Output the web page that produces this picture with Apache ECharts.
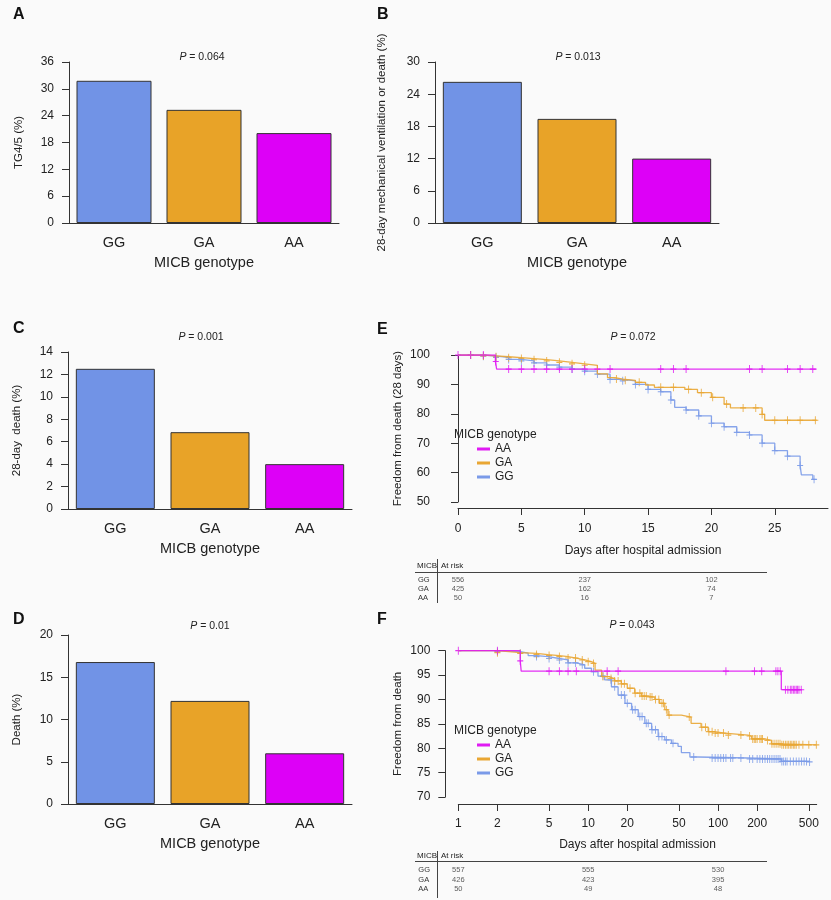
<!DOCTYPE html>
<html><head><meta charset="utf-8">
<script src="https://cdn.jsdelivr.net/npm/echarts@6/dist/echarts.min.js"></script>
<style>html,body{margin:0;padding:0;background:#fafafa}#c{width:831px;height:900px}</style>
</head><body><div id="c"></div>
<script>
// ---------- data ----------
const genotypes = ['GG', 'GA', 'AA'];
const tg45Pct = [31.8, 25.3, 20.1];
const ventOrDeathPct = [26.3, 19.4, 12.0];
const death28Pct = [12.5, 6.85, 4.0];
const deathPct = [16.8, 12.2, 6.0];
const pA = '0.064', pB = '0.013', pC = '0.001', pD = '0.01', pE = '0.072', pF = '0.043';

// Panel E: 28-day Kaplan-Meier (day, % survival)
const kmE_AA = [[0,100],[2.95,97.8],[3.05,95.2],[28.3,95.2]];
const censE_AA = [0,1,2,2.98,4,5,6,7,8,9,10,11,12,16,17,18,23,24,26,27,28];
const kmE_GA = [[0,100],[2,99.7],[3,99.4],[4,99.1],[5,98.8],[6,98.4],[7,98.0],[8,97.5],[9,97.0],[10,96.5],[11,93.6],[11.8,92.3],[12.4,91.8],[13,91.4],[14,90.7],[14.8,89.8],[15.5,89.0],[17.9,88.3],[18.9,87.2],[20,85.6],[21,83.3],[21.5,82.0],[24,79.8],[24.2,77.8],[28.3,77.8]];
const censE_GA = [1,2,3,4,5,6,7,8,9,10,12.5,13.2,14.3,16,17,18.2,19.2,20.1,21.2,22.5,23.5,24,25,26,27,28.2];
const kmE_GG = [[0,100],[2,99.6],[3,99.2],[4,98.5],[5,98.0],[6,97.3],[7,96.6],[8,95.9],[9,95.2],[10,94.5],[11,93.5],[12,91.7],[13,91.2],[14,90.0],[15,88.3],[16,87.5],[16.8,84.7],[17.1,82.2],[18,81.3],[19,79.3],[20,76.8],[21,75.6],[22,73.7],[23,72.8],[24,70.0],[25,67.5],[26,65.6],[27,62.4],[27.1,59.2],[28,57.7],[28.2,57.7]];
const censE_GG = [1,2,3,4,5,6,7,8,9,10,11,12,13,14,15,16,16.8,18,19,20,21,22,23,24,25,26,27,28.1];

// Panel F: long-term Kaplan-Meier (day, % survival), log time axis
const kmF_AA = [[1,100],[3.0,97.9],[3.05,95.8],[307,92.0],[440,92.0]];
const censF_AA = [1,2,3,5,6,7,8.1,14,17,115,191,217,279,289,301,330,345,360,370,380,390,400,410,420,437];
const kmF_GA = [[1,100],[2,99.6],[3,99.45],[4,99.2],[4.9,99.0],[6,98.8],[7,98.5],[8.1,98.1],[9.4,97.75],[10.6,97.4],[11.3,96.0],[12.7,94.7],[14.3,94.3],[16,93.8],[18,93.2],[20,92.3],[22.8,91.3],[25.7,90.7],[29,90.5],[32.6,90.0],[35.5,89.2],[38.9,87.9],[41.2,86.8],[52.2,86.4],[62,85.1],[74,84.3],[84,83.4],[94,83.1],[112,82.7],[170,82.5],[181,81.9],[229,81.6],[258,80.9],[307,80.7],[571,80.7]];
const censF_GA = [2,3,4,5,6,7,8,9,10,11,13,14,15,16,17,18,19,21,23,25,26,27,28,30,31,33,35,37,38,40,42,60,75,80,85,90,95,100,110,120,150,175,185,190,195,200,210,215,220,240,260,270,280,290,300,310,320,330,340,350,360,370,380,390,400,420,450,500,571];
const kmF_GG = [[1,100],[2,99.8],[3,99.5],[3.45,99.0],[4,98.8],[4.9,98.4],[6,98.1],[7,97.5],[8.1,97.1],[9.4,96.4],[10.6,95.7],[11.9,94.8],[13.4,94.0],[15.1,92.6],[17,90.9],[19.2,89.2],[21.6,87.9],[24.3,86.5],[27.3,85.1],[30.8,83.8],[34.6,82.4],[38.9,81.7],[43.8,81.0],[49.2,80.4],[52.2,79.1],[60.7,78.2],[70,78.0],[170,77.8],[307,77.3],[507,77.2]];
const censF_GG = [2,3,4,5,6,7,8,9,11,13,15,16,18,19,20,22,23,25,26,28,29,31,33,35,37,40,45,65,90,95,100,105,110,115,125,130,150,175,185,200,210,220,230,240,250,260,270,280,290,300,310,320,330,340,360,380,400,420,440,460,480,507];

// Risk tables
const riskE_days = [0, 10, 20];
const riskE_GG = [556, 237, 102];
const riskE_GA = [425, 162, 74];
const riskE_AA = [50, 16, 7];
const riskF_days = [1, 10, 100];
const riskF_GG = [557, 555, 530];
const riskF_GA = [426, 423, 395];
const riskF_AA = [50, 49, 48];
const xTicksE = [0, 5, 10, 15, 20, 25];
const xTicksF = [1, 2, 5, 10, 20, 50, 100, 200, 500];

// ---------- styling ----------
const FF = 'Liberation Sans, Arial, sans-serif';
const TXT = '#222';
const barColors = ['#7193e6', '#e8a328', '#dd00f7'];
const kmColors = {AA: '#e01af3', GA: '#e9a633', GG: '#7a9ae8'};

function survAt(km, t) {
  let v = km[0][1];
  for (const p of km) { if (p[0] <= t) v = p[1]; }
  return v;
}

const grids = [
  {left: 69, top: 62, width: 270, height: 161},      // A
  {left: 435, top: 62, width: 284, height: 161},     // B
  {left: 68, top: 352, width: 284, height: 157},     // C
  {left: 68, top: 635, width: 284, height: 169},     // D
  {left: 458, top: 355, width: 370, height: 147},    // E
  {left: 458.3, top: 650.7, width: 358.4, height: 146.3}, // F
  {left: 458, top: 575.5, width: 370, height: 27},   // E risk
  {left: 458.3, top: 865.5, width: 358.4, height: 28} // F risk
];

const barY = [
  {max: 36, interval: 6, name: 'TG4/5 (%)', gap: 44},
  {max: 30, interval: 6, name: '28-day mechanical ventilation or death (%)', gap: 47},
  {max: 14, interval: 2, name: '28-day  death (%)', gap: 45},
  {max: 20, interval: 5, name: 'Death (%)', gap: 45}
];

const xAxes = [], yAxes = [], series = [];
for (let i = 0; i < 4; i++) {
  xAxes.push({
    type: 'category', gridIndex: i, data: genotypes,
    axisLine: {lineStyle: {color: '#333', width: 1}},
    axisTick: {alignWithLabel: true, length: 7, lineStyle: {color: '#333'}},
    axisLabel: {fontSize: 14.5, color: TXT, margin: 12, fontFamily: FF},
    name: 'MICB genotype', nameLocation: 'middle', nameGap: 32,
    nameTextStyle: {fontSize: 14.5, color: TXT, fontFamily: FF}
  });
  yAxes.push({
    type: 'value', gridIndex: i, min: 0, max: barY[i].max, interval: barY[i].interval,
    axisLine: {show: true, lineStyle: {color: '#333'}},
    axisTick: {show: true, length: 7, lineStyle: {color: '#333'}},
    splitLine: {show: false},
    axisLabel: {fontSize: 12, color: TXT, margin: 15, fontFamily: FF},
    name: barY[i].name, nameLocation: 'middle', nameGap: barY[i].gap,
    nameTextStyle: {fontSize: 11.5, color: TXT, fontFamily: FF}
  });
}
const barData = [tg45Pct, ventOrDeathPct, death28Pct, deathPct];
const barWidths = [75, 79, 79, 79];
barData.forEach((arr, i) => {
  series.push({
    type: 'bar', xAxisIndex: i, yAxisIndex: i, barWidth: barWidths[i],
    data: arr.map((v, k) => ({value: v, itemStyle: {color: barColors[k]}})),
    itemStyle: {borderColor: '#333', borderWidth: 1},
    silent: true
  });
});

// E axes (index 4)
xAxes.push({
  type: 'value', gridIndex: 4, min: 0, max: 29.2, offset: 6,
  axisLine: {lineStyle: {color: '#333'}},
  axisTick: {show: true, length: 7, lineStyle: {color: '#333'}, customValues: xTicksE},
  axisLabel: {fontSize: 12, color: TXT, margin: 15, fontFamily: FF, customValues: xTicksE},
  splitLine: {show: false},
  name: 'Days after hospital admission', nameLocation: 'middle', nameGap: 37,
  nameTextStyle: {fontSize: 12, color: TXT, fontFamily: FF}
});
yAxes.push({
  type: 'value', gridIndex: 4, min: 50, max: 100, interval: 10, offset: 13,
  axisLine: {show: true, lineStyle: {color: '#333'}},
  axisTick: {show: true, length: 7, lineStyle: {color: '#333'}},
  splitLine: {show: false},
  axisLabel: {fontSize: 12, color: TXT, margin: 15, fontFamily: FF},
  name: 'Freedom from death (28 days)', nameLocation: 'middle', nameGap: 41,
  nameTextStyle: {fontSize: 11.5, color: TXT, fontFamily: FF}
});
// F axes (index 5)
xAxes.push({
  type: 'log', logBase: 10, gridIndex: 5, min: 1, max: 575, offset: 7,
  axisLine: {lineStyle: {color: '#333'}},
  axisTick: {show: true, length: 7, lineStyle: {color: '#333'}, customValues: xTicksF},
  axisLabel: {fontSize: 12, color: TXT, margin: 14, fontFamily: FF, customValues: xTicksF},
  splitLine: {show: false}, minorTick: {show: false},
  name: 'Days after hospital admission', nameLocation: 'middle', nameGap: 35,
  nameTextStyle: {fontSize: 12, color: TXT, fontFamily: FF}
});
yAxes.push({
  type: 'value', gridIndex: 5, min: 70, max: 100, interval: 5, offset: 13,
  axisLine: {show: true, lineStyle: {color: '#333'}},
  axisTick: {show: true, length: 7, lineStyle: {color: '#333'}},
  splitLine: {show: false},
  axisLabel: {fontSize: 12, color: TXT, margin: 15, fontFamily: FF},
  name: 'Freedom from death', nameLocation: 'middle', nameGap: 41,
  nameTextStyle: {fontSize: 11.5, color: TXT, fontFamily: FF}
});
// risk table axes (6, 7)
xAxes.push({type: 'value', gridIndex: 6, min: 0, max: 29.2, show: false});
xAxes.push({type: 'log', logBase: 10, gridIndex: 7, min: 1, max: 575, show: false});
[6, 7].forEach(g => yAxes.push({
  type: 'category', gridIndex: g, data: genotypes, inverse: true,
  axisLine: {show: false}, axisTick: {show: false}, splitLine: {show: false},
  axisLabel: {fontSize: 7.5, color: '#333', fontFamily: FF, align: 'left', margin: 40,
    interval: 0, hideOverlap: false}
}));

// KM series
const kmSets = [
  {axis: 4, km: {AA: kmE_AA, GA: kmE_GA, GG: kmE_GG}, cens: {AA: censE_AA, GA: censE_GA, GG: censE_GG}},
  {axis: 5, km: {AA: kmF_AA, GA: kmF_GA, GG: kmF_GG}, cens: {AA: censF_AA, GA: censF_GA, GG: censF_GG}}
];
const plusPath = 'path://M0,-4L0,4M-3,0L3,0';
kmSets.forEach(set => {
  ['GG', 'GA', 'AA'].forEach(g => {
    series.push({
      type: 'line', name: g, xAxisIndex: set.axis, yAxisIndex: set.axis,
      step: 'end', showSymbol: false, silent: true, animation: false,
      data: set.km[g],
      lineStyle: {color: kmColors[g], width: 1.3, opacity: 0.9},
      itemStyle: {color: kmColors[g]}
    });
    series.push({
      type: 'scatter', name: g + ' censored', xAxisIndex: set.axis, yAxisIndex: set.axis,
      symbol: plusPath, symbolSize: [6, 8], silent: true, animation: false,
      data: set.cens[g].map(t => [t, survAt(set.km[g], t)]),
      itemStyle: {color: kmColors[g], borderColor: kmColors[g], borderWidth: 1, opacity: 0.9}
    });
  });
});

// risk numbers
const riskSets = [
  {axis: 6, days: riskE_days, rows: {GG: riskE_GG, GA: riskE_GA, AA: riskE_AA}},
  {axis: 7, days: riskF_days, rows: {GG: riskF_GG, GA: riskF_GA, AA: riskF_AA}}
];
riskSets.forEach(rs => {
  const data = [];
  ['GG', 'GA', 'AA'].forEach(g => rs.rows[g].forEach((n, k) => data.push([rs.days[k], g, n])));
  series.push({
    type: 'scatter', xAxisIndex: rs.axis, yAxisIndex: rs.axis, symbolSize: 1, silent: true,
    itemStyle: {color: 'rgba(0,0,0,0)'},
    label: {show: true, position: 'inside', formatter: p => String(p.value[2]),
      fontSize: 7.5, color: '#333', fontFamily: FF},
    data: data
  });
});

function letter(t, x, y) {
  return {type: 'text', x: x, y: y, style: {text: t, font: 'bold 16px ' + FF, fill: '#111', verticalAlign: 'middle'}};
}
function pText(v, x, y) {
  return {type: 'text', x: x, y: y, style: {
    text: '{i|P} = ' + v, fontSize: 10.5, fontFamily: FF, fill: TXT, align: 'center', verticalAlign: 'middle',
    rich: {i: {fontStyle: 'italic', fontSize: 10.5, fontFamily: FF, fill: TXT}}
  }};
}
function txt(t, x, y, size) {
  return {type: 'text', x: x, y: y, style: {text: t, fontSize: size, fontFamily: FF, fill: TXT, verticalAlign: 'middle'}};
}
function line(x1, y1, x2, y2) {
  return {type: 'line', shape: {x1: x1, y1: y1, x2: x2, y2: y2}, style: {stroke: '#444', lineWidth: 1}};
}

const graphic = [
  letter('A', 13, 15), letter('B', 377, 15), letter('C', 13, 329),
  letter('D', 13, 620), letter('E', 377, 330), letter('F', 377, 620),
  pText(pA, 202, 57), pText(pB, 578, 57), pText(pC, 201, 337),
  pText(pD, 210, 626), pText(pE, 633, 337), pText(pF, 632, 625),
  txt('MICB genotype', 454, 435, 12), txt('MICB genotype', 454, 731, 12),
  txt('MICB', 417, 566, 8), txt('At risk', 441, 566, 8),
  line(415, 572.5, 767, 572.5), line(437.5, 559, 437.5, 603),
  txt('MICB', 417, 856, 8), txt('At risk', 441, 856, 8),
  line(415, 861.5, 767, 861.5), line(437.5, 851, 437.5, 898)
];

const legendBase = {
  data: ['AA', 'GA', 'GG'], orient: 'vertical', itemWidth: 13, itemHeight: 3, icon: 'rect',
  itemGap: 2, padding: 0, selectedMode: false,
  textStyle: {fontSize: 12, fontFamily: FF, color: TXT}
};

const chart = echarts.init(document.getElementById('c'), null, {renderer: 'canvas'});
chart.setOption({
  backgroundColor: '#fafafa',
  animation: false,
  grid: grids,
  xAxis: xAxes,
  yAxis: yAxes,
  series: series,
  legend: [
    Object.assign({}, legendBase, {left: 477, top: 443}),
    Object.assign({}, legendBase, {left: 477, top: 739})
  ],
  graphic: graphic
});
</script></body></html>
